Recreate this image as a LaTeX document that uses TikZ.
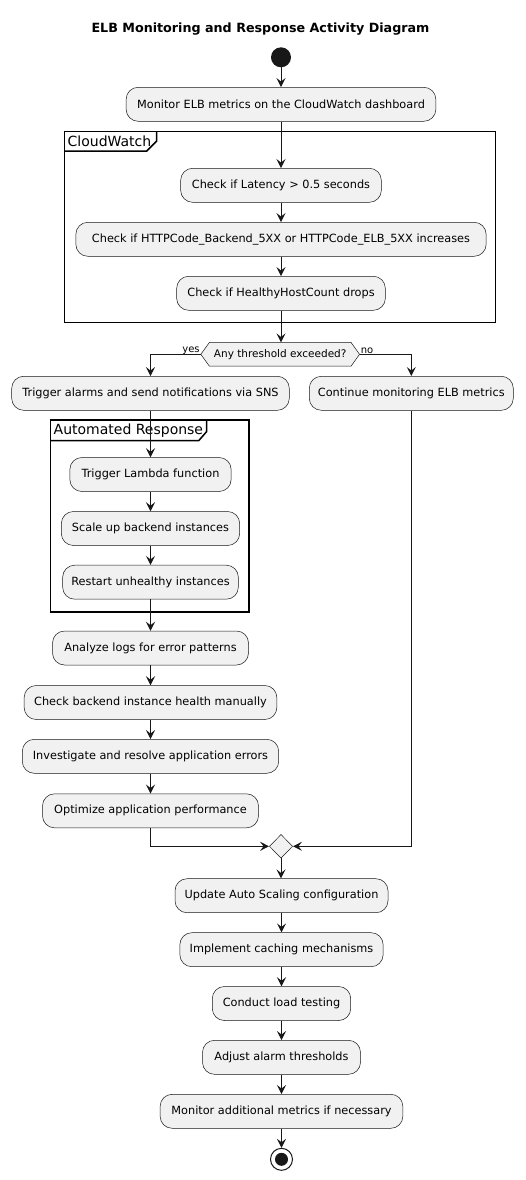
\documentclass[tikz,border=0pt]{standalone}
\usepackage{fontspec}
\setmainfont{DejaVu Sans}
\usetikzlibrary{arrows.meta,shapes.geometric,calc,backgrounds}
\definecolor{boxfill}{HTML}{F1F1F1}
\definecolor{boxline}{HTML}{181818}
\begin{document}
\begin{tikzpicture}[x=1pt,y=-1pt,
  act/.style={draw=boxline, line width=0.5pt, fill=boxfill, rounded corners=12pt,
    minimum height=34pt, inner sep=0pt, font=\fontsize{11.3}{13}\selectfont},
  arr/.style={draw=boxline, line width=1pt, -{Stealth[length=9pt,width=9pt,inset=3.5pt]}},
  frame/.style={draw=black, line width=1.5pt},
  framelbl/.style={anchor=west, inner sep=0pt, font=\fontsize{14}{16}\selectfont},
  lbl/.style={inner sep=1pt, font=\fontsize{10}{12}\selectfont},
  startnode/.style={circle, fill=boxline, minimum size=20pt, inner sep=0pt},
  endnode/.style={circle, draw=boxline, line width=1pt, fill=white, minimum size=22pt, inner sep=0pt,
    path picture={\fill[boxline] (path picture bounding box.center) circle (6.5pt);}},
  mergenode/.style={diamond, draw=boxline, line width=0.5pt, fill=boxfill, minimum width=23.3pt,
    minimum height=23.7pt, inner sep=0pt},
  decnode/.style={minimum width=158.3pt, minimum height=23.3pt, inner sep=0pt, font=\fontsize{10.5}{12}\selectfont}
]
\begin{scope}[on background layer]
\fill[white] (0,0) rectangle (526,1180);
\end{scope}
\useasboundingbox (0,0) rectangle (526,1180);

\node[font=\bfseries\fontsize{12.7}{15}\selectfont] (title) at (260.5,29) {ELB Monitoring and Response Activity Diagram};

% frames
\draw[frame] (64.7,131.3) rectangle (495.7,322.3);
\draw[frame] (64.7,151) -- (146.7,151) -- (156.7,141) -- (156.7,131.3);
\node[framelbl] (cwlbl) at (67.5,141.5) {CloudWatch};

\draw[frame] (50.7,420) rectangle (249,612);
\draw[frame] (50.7,440.7) -- (198.7,440.7) -- (206.7,431.5) -- (206.7,420);
\node[framelbl] (arlbl) at (53.5,430.5) {Automated Response};

% nodes
\node[startnode] (start) at (281,57.3) {};
\node[act, minimum width=309.7pt] (b1) at (281,104.3) {Monitor ELB metrics on the CloudWatch dashboard};
\node[act, minimum width=200.7pt] (b2) at (281,185.3) {Check if Latency > 0.5 seconds};
\node[act, minimum width=410.3pt] (b3) at (281,239.3) {Check if HTTPCode\_Backend\_5XX or HTTPCode\_ELB\_5XX increases};
\node[act, minimum width=208.7pt] (b4) at (281,293.3) {Check if HealthyHostCount drops};

\node[decnode] (dec) at (280.2,354.3) {Any threshold exceeded?};
\begin{scope}[on background layer]
\filldraw[draw=boxline, fill=boxfill, line width=0.5pt]
  (dec.west) -- ($(dec.north west)+(8.5,0)$) -- ($(dec.north east)+(-8.5,0)$) -- (dec.east)
  -- ($(dec.south east)+(-8.5,0)$) -- ($(dec.south west)+(8.5,0)$) -- cycle;
\end{scope}
\node[lbl, anchor=south east] (yes) at ($(dec.west)+(0,1)$) {yes};
\node[lbl, anchor=south west] (no) at ($(dec.east)+(0,1)$) {no};

\node[act, minimum width=277.6pt] (b5) at (150.5,393.3) {Trigger alarms and send notifications via SNS};
\node[act, minimum width=204pt] (b6) at (411.3,393.3) {Continue monitoring ELB metrics};

\node[act, minimum width=161.3pt] (b7) at (150.5,474.5) {Trigger Lambda function};
\node[act, minimum width=178.3pt] (b8) at (150.5,528.5) {Scale up backend instances};
\node[act, minimum width=175.7pt] (b9) at (150.5,582.2) {Restart unhealthy instances};

\node[act, minimum width=196pt] (b10) at (150.5,648) {Analyze logs for error patterns};
\node[act, minimum width=252.7pt] (b11) at (150.5,702.5) {Check backend instance health manually};
\node[act, minimum width=256.4pt] (b12) at (150.5,756.3) {Investigate and resolve application errors};
\node[act, minimum width=216pt] (b13) at (150.5,810.8) {Optimize application performance};

\node[mergenode] (merge) at (281,846.3) {};

\node[act, minimum width=213pt] (b14) at (281.5,895.7) {Update Auto Scaling configuration};
\node[act, minimum width=203.3pt] (b15) at (281.5,949.7) {Implement caching mechanisms};
\node[act, minimum width=138.4pt] (b16) at (281.5,1003.5) {Conduct load testing};
\node[act, minimum width=158pt] (b17) at (281.5,1057.3) {Adjust alarm thresholds};
\node[act, minimum width=242.7pt] (b18) at (281.5,1111.3) {Monitor additional metrics if necessary};
\node[endnode] (end) at (281.5,1159.3) {};

% connectors
\draw[arr] (start) -- (b1);
\draw[arr] (b1) -- (b2);
\draw[arr] (b2) -- (b3);
\draw[arr] (b3) -- (b4);
\draw[arr] (b4.south) -- (dec.north -| b4.south);
\draw[arr] (dec.west) -| (b5.north);
\draw[arr] (dec.east) -| (b6.north);
\draw[arr] (b5) -- (b7);
\draw[arr] (b7) -- (b8);
\draw[arr] (b8) -- (b9);
\draw[arr] (b9) -- (b10);
\draw[arr] (b10) -- (b11);
\draw[arr] (b11) -- (b12);
\draw[arr] (b12) -- (b13);
\draw[arr] (b13.south) |- (merge.west);
\draw[arr] (b6.south) |- (merge.east);
\draw[arr] (merge.south) -- (merge.south |- b14.north);
\draw[arr] (b14) -- (b15);
\draw[arr] (b15) -- (b16);
\draw[arr] (b16) -- (b17);
\draw[arr] (b17) -- (b18);
\draw[arr] (b18) -- (end);
\end{tikzpicture}
\end{document}
